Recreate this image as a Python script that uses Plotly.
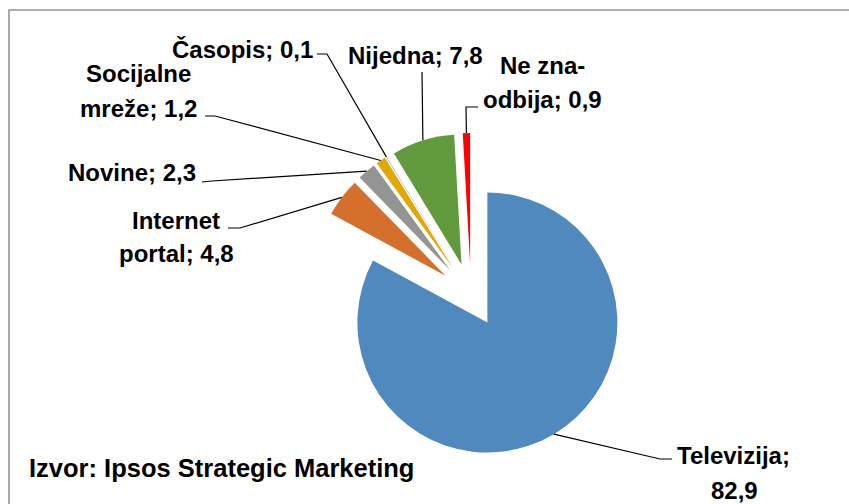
import math
import plotly.graph_objects as go

# ---------------- data ----------------
categories = ["Televizija", "Internet portal", "Novine", "Socijalne mreže",
              "Časopis", "Nijedna", "Ne zna-odbija"]
values = [82.9, 4.8, 2.3, 1.2, 0.1, 7.8, 0.9]
source_note = "Izvor: Ipsos Strategic Marketing"

# ---------------- style / layout ----------------
colors = ["#4F89BD", "#D4702C", "#949494", "#E3A800", "#8EB4E3", "#619A3D", "#FF0000"]
W, H = 849, 504
CX, CY, R = 471, 295, 130          # pie centre / radius in pixels
PULL = 0.246                      # explode fraction of radius
FONT = "Liberation Sans"
LABEL_SIZE = 24

label_layout = {
    "Televizija":      dict(split="Televizija;", pos=[(733, 455), (734, 490)], elbow=[(672, 459), (660, 459)]),
    "Internet portal": dict(split="Internet", pos=[(176, 220), (176, 253)], elbow=[(228, 228), (240, 228)]),
    "Novine":          dict(split=None, pos=[(132, 172)], elbow=[(202, 182), (212, 181)]),
    "Socijalne mreže": dict(split="Socijalne", pos=[(138.5, 73), (138.5, 108)], elbow=[(205, 116), (215, 116)]),
    "Časopis":         dict(split=None, pos=[(242.5, 50)], elbow=[(317, 54), (327, 54)]),
    "Nijedna":         dict(split=None, pos=[(415, 55)], elbow=[(422, 72)]),
    "Ne zna-odbija":   dict(split="Ne zna-", pos=[(542, 65), (542, 100)], elbow=[(478, 107), (466, 107)]),
}


def px(x):
    return x / W


def py(y):
    return 1 - y / H


half = R * (1 + PULL)
domain_x = [px(CX - half), px(CX + half)]
domain_y = [py(CY + half), py(CY - half)]

fig = go.Figure(go.Pie(
    labels=categories, values=values,
    marker=dict(colors=colors, line=dict(width=0)),
    sort=False, direction="clockwise", rotation=0,
    pull=[PULL] * len(values),
    textinfo="none", hoverinfo="label+value",
    showlegend=False,
    domain=dict(x=domain_x, y=domain_y),
))

# leader lines ending at the mid-point of each exploded slice's outer arc
total = sum(values)
cum = 0.0
shapes = []
annotations = []
for cat, val in zip(categories, values):
    mid = (cum + val / 2) / total * 2 * math.pi
    cum += val
    dx, dy = math.sin(mid), -math.cos(mid)
    pcx, pcy = CX + PULL * R * dx, CY + PULL * R * dy
    ax, ay = pcx + R * dx, pcy + R * dy
    lay = label_layout[cat]
    pts = lay["elbow"] + [(ax, ay)]
    path = "M " + " L ".join(f"{px(x):.5f},{py(y):.5f}" for x, y in pts)
    shapes.append(dict(type="path", xref="paper", yref="paper", path=path,
                       line=dict(color="black", width=1.2)))
    full = f"{cat}; {str(val).replace('.', ',')}"
    if lay["split"]:
        lines = [lay["split"], full[len(lay["split"]):].strip()]
    else:
        lines = [full]
    for txt, (x, y) in zip(lines, lay["pos"]):
        annotations.append(dict(text=txt, x=px(x), y=py(y), xref="paper", yref="paper",
                                xanchor="center", yanchor="middle", showarrow=False,
                                font=dict(family=FONT, size=LABEL_SIZE, color="black", weight="bold")))

annotations.append(dict(text=source_note, x=px(27), y=py(468), xref="paper", yref="paper",
                        xanchor="left", yanchor="middle", showarrow=False,
                        font=dict(family=FONT, size=25.5, color="black", weight="bold")))

# chart-area border: only left and top edges are visible (cropped at right and bottom)
border = f"M {px(9):.5f},{py(H + 30):.5f} L {px(9):.5f},{py(10):.5f} L {px(W + 30):.5f},{py(10):.5f}"
shapes.append(dict(type="path", xref="paper", yref="paper", path=border,
                   line=dict(color="#959595", width=1.6)))

fig.update_layout(
    width=W, height=H,
    margin=dict(l=0, r=0, t=0, b=0),
    paper_bgcolor="white", plot_bgcolor="white",
    shapes=shapes, annotations=annotations,
)

fig.write_html("out.html", config={"displayModeBar": False})

# remove the browser's default page margin so the figure fills the window exactly
with open("out.html", encoding="utf-8") as f:
    html = f.read()
html = html.replace("<head>", "<head><style>html,body{margin:0;padding:0;overflow:hidden;}</style>", 1)
with open("out.html", "w", encoding="utf-8") as f:
    f.write(html)
